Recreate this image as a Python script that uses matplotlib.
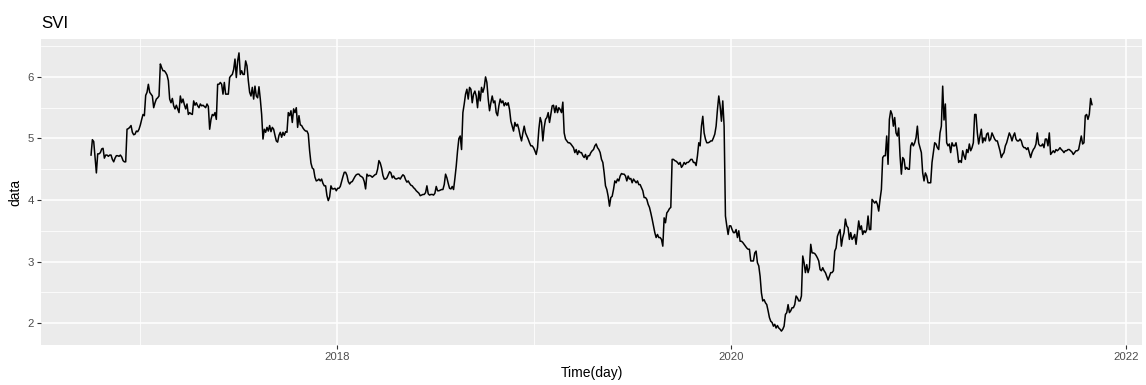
import pandas as pd
import matplotlib
matplotlib.use("Agg")
import matplotlib.pyplot as plt
import matplotlib.dates as mdates
from matplotlib.ticker import FixedLocator, MultipleLocator

plt.rcParams["font.family"] = ["Liberation Sans", "DejaVu Sans"]

# Daily SVI series, evenly sampled between the first and last observation
first_day = "2016-10-02"
last_day = "2021-10-30"
svi = [
    4.73, 4.98, 4.95, 4.69, 4.44, 4.75, 4.75, 4.77, 4.83, 4.84, 4.68, 4.73, 4.73, 4.71, 4.73, 4.73, 4.66, 4.62, 4.68, 4.72, 4.72, 4.71, 4.73, 4.70, 4.64,
    4.62, 4.62, 5.15, 5.16, 5.18, 5.21, 5.10, 5.06, 5.07, 5.12, 5.11, 5.15, 5.22, 5.31, 5.39, 5.37, 5.70, 5.75, 5.88, 5.75, 5.72, 5.69, 5.50, 5.58, 5.64,
    5.66, 5.69, 6.21, 6.15, 6.10, 6.10, 6.07, 6.03, 5.94, 5.64, 5.58, 5.65, 5.53, 5.48, 5.54, 5.48, 5.42, 5.69, 5.58, 5.64, 5.55, 5.48, 5.56, 5.39, 5.42,
    5.40, 5.39, 5.61, 5.54, 5.58, 5.53, 5.50, 5.56, 5.53, 5.54, 5.52, 5.50, 5.56, 5.52, 5.15, 5.31, 5.39, 5.37, 5.42, 5.31, 5.88, 5.88, 5.91, 5.88, 5.72,
    5.91, 5.72, 5.72, 5.72, 5.99, 6.02, 6.04, 6.12, 6.29, 5.99, 6.26, 6.39, 6.04, 6.10, 6.04, 6.04, 6.26, 6.18, 5.94, 5.75, 5.69, 5.83, 5.64, 5.85, 5.69,
    5.66, 5.84, 5.64, 5.39, 4.99, 5.15, 5.10, 5.18, 5.12, 5.21, 5.11, 5.18, 5.15, 5.05, 4.96, 4.94, 5.05, 5.10, 5.02, 5.10, 5.05, 5.11, 5.10, 5.42, 5.37,
    5.45, 5.26, 5.48, 5.42, 5.50, 5.18, 5.37, 5.22, 5.21, 5.17, 5.14, 5.12, 5.12, 5.07, 4.80, 4.60, 4.52, 4.50, 4.37, 4.31, 4.32, 4.34, 4.31, 4.34, 4.27,
    4.23, 4.23, 4.07, 3.99, 4.05, 4.23, 4.18, 4.18, 4.19, 4.15, 4.19, 4.19, 4.22, 4.30, 4.38, 4.45, 4.45, 4.40, 4.30, 4.26, 4.29, 4.30, 4.34, 4.38, 4.41,
    4.42, 4.42, 4.39, 4.38, 4.36, 4.30, 4.18, 4.42, 4.39, 4.40, 4.39, 4.37, 4.39, 4.41, 4.42, 4.50, 4.64, 4.60, 4.52, 4.40, 4.34, 4.34, 4.36, 4.41, 4.46,
    4.44, 4.36, 4.39, 4.35, 4.34, 4.35, 4.36, 4.34, 4.38, 4.41, 4.39, 4.33, 4.29, 4.31, 4.27, 4.24, 4.23, 4.20, 4.18, 4.15, 4.13, 4.11, 4.07, 4.08, 4.09,
    4.09, 4.12, 4.23, 4.10, 4.08, 4.09, 4.09, 4.08, 4.11, 4.22, 4.15, 4.15, 4.16, 4.17, 4.17, 4.25, 4.42, 4.36, 4.27, 4.19, 4.18, 4.22, 4.17, 4.35, 4.55,
    4.80, 5.00, 5.04, 4.82, 5.42, 5.56, 5.72, 5.80, 5.64, 5.83, 5.80, 5.58, 5.72, 5.77, 5.69, 5.50, 5.77, 5.61, 5.83, 5.75, 5.83, 6.00, 5.91, 5.64, 5.45,
    5.58, 5.69, 5.58, 5.61, 5.42, 5.37, 5.53, 5.64, 5.58, 5.61, 5.53, 5.58, 5.54, 5.58, 5.47, 5.28, 5.20, 5.12, 5.26, 5.20, 5.23, 5.15, 5.04, 4.96, 5.09,
    5.20, 5.09, 5.04, 4.99, 4.93, 4.88, 4.88, 4.85, 4.80, 4.74, 4.85, 5.15, 5.34, 5.26, 4.96, 5.18, 5.31, 5.34, 5.42, 5.26, 5.39, 5.53, 5.54, 5.42, 5.53,
    5.42, 5.50, 5.47, 5.42, 5.59, 5.09, 4.99, 4.96, 4.93, 4.93, 4.91, 4.88, 4.85, 4.77, 4.82, 4.74, 4.80, 4.77, 4.77, 4.72, 4.69, 4.74, 4.66, 4.72, 4.72,
    4.77, 4.80, 4.82, 4.88, 4.91, 4.85, 4.82, 4.77, 4.66, 4.61, 4.44, 4.23, 4.17, 4.06, 3.90, 4.04, 4.06, 4.17, 4.31, 4.28, 4.34, 4.31, 4.39, 4.43, 4.42,
    4.42, 4.39, 4.31, 4.39, 4.34, 4.35, 4.28, 4.34, 4.31, 4.28, 4.31, 4.25, 4.25, 4.20, 4.15, 4.04, 4.04, 4.01, 3.93, 3.88, 3.79, 3.69, 3.58, 3.47, 3.39,
    3.44, 3.39, 3.39, 3.36, 3.25, 3.71, 3.63, 3.79, 3.82, 3.86, 3.88, 4.66, 4.66, 4.64, 4.63, 4.61, 4.58, 4.61, 4.53, 4.56, 4.61, 4.58, 4.61, 4.61, 4.63,
    4.66, 4.66, 4.61, 4.61, 4.56, 4.72, 4.93, 4.88, 5.20, 5.36, 5.09, 4.99, 4.93, 4.93, 4.94, 4.96, 4.96, 5.01, 5.07, 5.20, 5.47, 5.69, 5.53, 5.28, 5.61,
    5.20, 3.74, 3.58, 3.44, 3.58, 3.58, 3.52, 3.47, 3.47, 3.52, 3.39, 3.50, 3.33, 3.33, 3.31, 3.28, 3.25, 3.22, 3.20, 3.20, 3.01, 3.01, 3.01, 3.14, 3.17,
    2.98, 2.93, 2.76, 2.49, 2.36, 2.38, 2.33, 2.30, 2.20, 2.09, 2.03, 2.01, 1.95, 1.98, 1.92, 1.96, 1.92, 1.90, 1.87, 1.90, 1.95, 2.14, 2.17, 2.30, 2.17,
    2.20, 2.25, 2.25, 2.30, 2.44, 2.41, 2.36, 2.36, 2.44, 3.09, 2.98, 2.82, 2.95, 2.82, 2.90, 3.28, 3.14, 3.14, 3.13, 3.10, 3.06, 3.01, 2.87, 2.85, 2.90,
    2.85, 2.82, 2.76, 2.70, 2.76, 2.82, 2.82, 2.85, 3.17, 3.22, 3.41, 3.47, 3.52, 3.25, 3.39, 3.47, 3.69, 3.58, 3.55, 3.36, 3.47, 3.36, 3.39, 3.44, 3.28,
    3.47, 3.66, 3.52, 3.58, 3.44, 3.50, 3.47, 3.52, 3.74, 3.52, 3.52, 4.01, 3.98, 3.95, 3.98, 3.93, 3.82, 4.01, 4.17, 4.69, 4.72, 4.72, 5.04, 4.58, 5.31,
    5.45, 5.39, 5.20, 5.34, 5.09, 5.04, 5.17, 4.72, 4.42, 4.69, 4.66, 4.50, 4.53, 4.50, 4.50, 4.88, 4.93, 4.88, 4.93, 5.01, 5.20, 4.93, 4.85, 4.77, 4.44,
    4.31, 4.44, 4.39, 4.28, 4.28, 4.28, 4.61, 4.77, 4.93, 4.91, 4.85, 4.82, 5.09, 5.20, 5.85, 5.30, 5.56, 4.93, 4.88, 4.91, 4.77, 4.93, 4.88, 4.88, 4.93,
    4.80, 4.61, 4.64, 4.61, 4.80, 4.72, 4.66, 4.82, 4.77, 4.91, 4.80, 4.85, 4.93, 5.39, 5.39, 5.09, 4.91, 5.04, 5.15, 4.93, 5.01, 4.96, 5.07, 5.09, 4.96,
    4.99, 5.09, 5.04, 4.99, 4.96, 4.96, 4.88, 4.80, 4.69, 4.74, 4.77, 4.88, 4.93, 5.01, 5.09, 5.04, 4.96, 5.04, 5.09, 4.99, 4.96, 4.96, 4.99, 4.96, 4.88,
    4.85, 4.85, 4.82, 4.85, 4.77, 4.69, 4.77, 4.82, 4.85, 4.91, 5.09, 4.91, 4.88, 4.88, 4.91, 4.85, 4.99, 4.99, 4.88, 5.09, 4.74, 4.77, 4.80, 4.77, 4.82,
    4.80, 4.82, 4.85, 4.82, 4.80, 4.77, 4.80, 4.80, 4.82, 4.82, 4.80, 4.78, 4.74, 4.77, 4.80, 4.80, 4.82, 4.93, 5.04, 4.91, 4.93, 5.37, 5.39, 5.31, 5.39,
    5.65, 5.55,
]

major_years = ["2018", "2020", "2022"]
minor_years = ["2017", "2019", "2021"]
y_breaks = [2, 3, 4, 5, 6]

dates = pd.date_range(first_day, last_day, periods=len(svi))

W, H = 1146, 385
fig = plt.figure(figsize=(W / 100, H / 100), dpi=100)
fig.patch.set_facecolor("white")
ax = fig.add_axes([41 / W, 1 - 345 / H, (1142 - 41) / W, (345 - 39) / H])

ax.plot(dates, svi, color="black", lw=1.1, solid_joinstyle="round")

# ggplot-style 5% expansion on both axes
span = dates[-1] - dates[0]
ax.set_xlim(dates[0] - span * 0.05, dates[-1] + span * 0.05)
lo, hi = min(svi), max(svi)
pad = (hi - lo) * 0.05
ax.set_ylim(lo - pad, hi + pad)

ax.set_facecolor("#EBEBEB")
for s in ax.spines.values():
    s.set_visible(False)

major_pos = [mdates.date2num(pd.Timestamp(f"{y}-01-01")) for y in major_years]
minor_pos = [mdates.date2num(pd.Timestamp(f"{y}-01-01")) for y in minor_years]
ax.xaxis.set_major_locator(FixedLocator(major_pos))
ax.xaxis.set_minor_locator(FixedLocator(minor_pos))
ax.set_xticklabels(major_years)
ax.yaxis.set_major_locator(FixedLocator(y_breaks))
ax.yaxis.set_minor_locator(MultipleLocator(0.5))
ax.set_yticklabels([str(v) for v in y_breaks])

ax.grid(which="major", color="white", lw=1.1)
ax.grid(which="minor", color="white", lw=0.55)
ax.set_axisbelow(True)

ax.tick_params(which="major", length=2.6, width=0.8, color="#333333",
               labelsize=8.2, labelcolor="#4D4D4D", pad=2.4)
ax.tick_params(which="minor", length=0)

fig.text(41 / W, 1 - 28 / H, "SVI", fontsize=12.2, ha="left", va="baseline", color="black")
fig.text(591.5 / W, 1 - 377 / H, "Time(day)", fontsize=10, ha="center", va="baseline", color="black")
fig.text(15 / W, 1 - 192 / H, "data", fontsize=10, ha="center", va="center", rotation=90, color="black")

fig.savefig("out.png", dpi=100)
